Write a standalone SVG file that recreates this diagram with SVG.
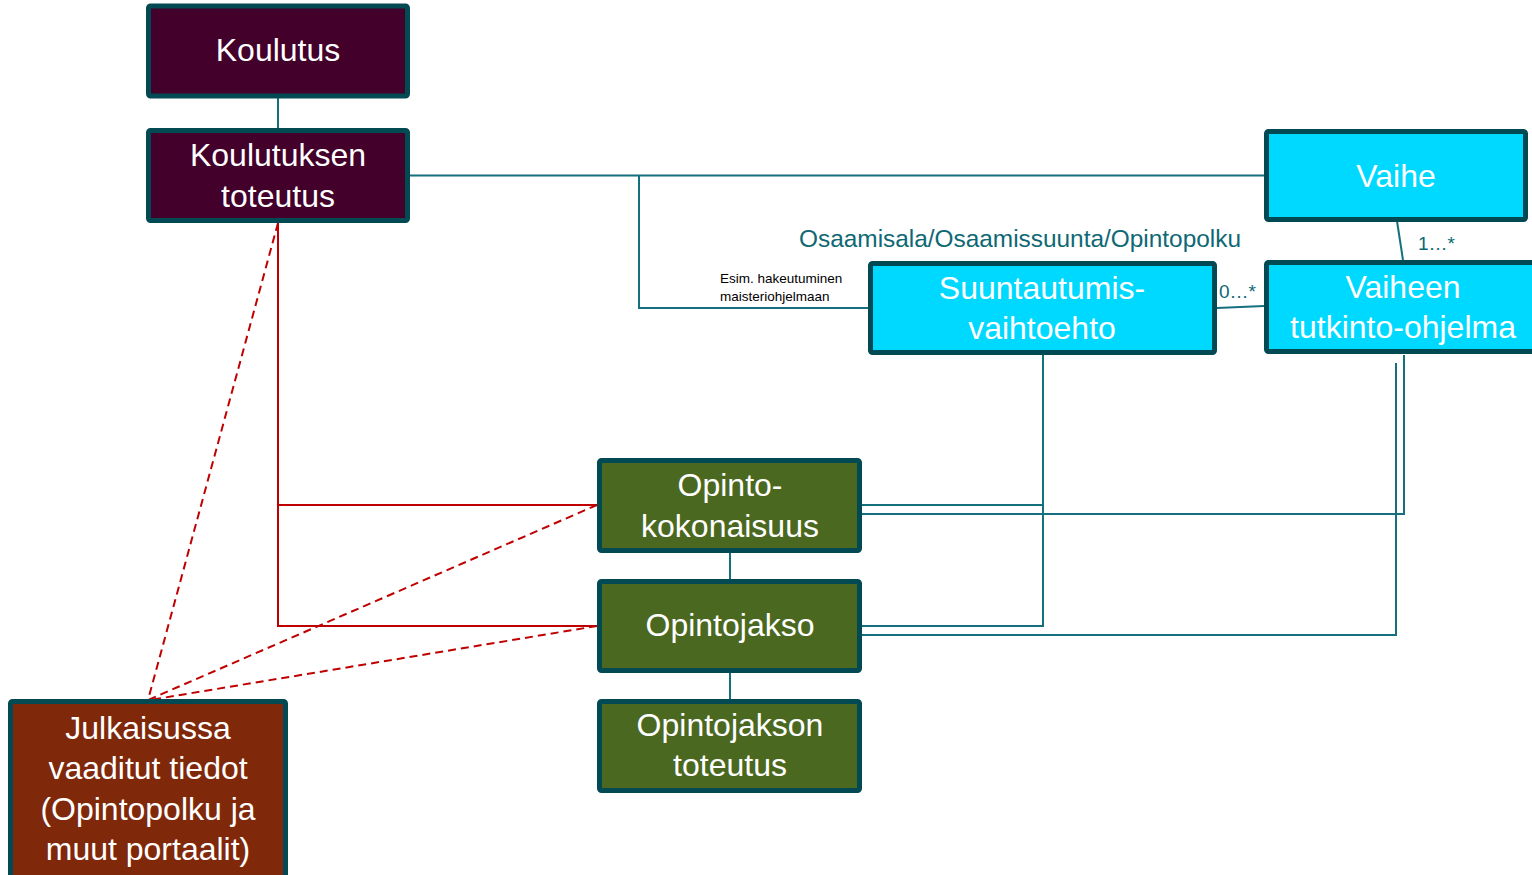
<svg xmlns="http://www.w3.org/2000/svg" width="1532" height="875" viewBox="0 0 1532 875">
<style>
.box{stroke:#024a53;stroke-width:5}
.maroon{fill:#42002a}
.cyan{fill:#00d9ff}
.green{fill:#4b6820}
.brown{fill:#7f280a}
.t{font-family:"Liberation Sans",Arial,sans-serif;font-size:32px;fill:#ffffff;text-anchor:middle}
.lbl{font-family:"Liberation Sans",Arial,sans-serif;fill:#0e6874}
.small{font-family:"Liberation Sans",Arial,sans-serif;font-size:13.5px;fill:#000000}
.c{fill:none;stroke:#14707e;stroke-width:2}
.r{fill:none;stroke:#c00000;stroke-width:2}
.rd{fill:none;stroke:#c00000;stroke-width:2;stroke-dasharray:8 5}
</style>
<rect width="1532" height="875" fill="#ffffff"/>
<g id="connectors">
<line class="c" x1="278" y1="98" x2="278" y2="128"/>
<line class="c" x1="410" y1="175.5" x2="1264" y2="175.5"/>
<polyline class="c" points="639,175.5 639,308 868,308"/>
<line class="c" x1="1397" y1="221" x2="1403" y2="260"/>
<line class="c" x1="1217" y1="308" x2="1264" y2="306"/>
<line class="c" x1="730" y1="553" x2="730" y2="579"/>
<line class="c" x1="730" y1="673" x2="730" y2="699"/>
<polyline class="c" points="862,505 1043,505"/>
<polyline class="c" points="1043,355 1043,626 862,626"/>
<polyline class="c" points="862,514 1404,514 1404,355"/>
<polyline class="c" points="1396,363 1396,635 862,635"/>
<polyline class="r" points="278,223 278,626 597,626"/>
<line class="r" x1="278" y1="505" x2="597" y2="505"/>
<line class="rd" x1="278" y1="223" x2="148" y2="700"/>
<line class="rd" x1="597" y1="505" x2="148" y2="700"/>
<line class="rd" x1="597" y1="626" x2="150" y2="700"/>
<text class="lbl" x="1020" y="247" font-size="24.4" text-anchor="middle">Osaamisala/Osaamissuunta/Opintopolku</text>
<text class="small" x="720" y="283">Esim. hakeutuminen</text>
<text class="small" x="720" y="301">maisteriohjelmaan</text>
<text class="lbl" x="1219" y="298" font-size="19">0…*</text>
<text class="lbl" x="1418" y="250" font-size="19">1…*</text>
</g>
<g id="koulutus">
<rect class="box maroon" x="148.5" y="6" width="259" height="90" rx="2"/>
<text class="t" x="278" y="61">Koulutus</text>
</g>
<g id="koulutuksen-toteutus">
<rect class="box maroon" x="148.5" y="130.5" width="259" height="90" rx="2"/>
<text class="t" x="278" y="166">Koulutuksen</text>
<text class="t" x="278" y="207">toteutus</text>
</g>
<g id="vaihe">
<rect class="box cyan" x="1266.5" y="131.5" width="259" height="88" rx="2"/>
<text class="t" x="1396" y="187">Vaihe</text>
</g>
<g id="suuntautumisvaihtoehto">
<rect class="box cyan" x="870.5" y="263.5" width="344" height="89" rx="2"/>
<text class="t" x="1042" y="299">Suuntautumis-</text>
<text class="t" x="1042" y="339">vaihtoehto</text>
</g>
<g id="vaiheen-tutkinto-ohjelma">
<rect class="box cyan" x="1266.5" y="262.5" width="280" height="89" rx="2"/>
<text class="t" x="1403" y="298">Vaiheen</text>
<text class="t" x="1403" y="338">tutkinto-ohjelma</text>
</g>
<g id="opintokokonaisuus">
<rect class="box green" x="599.5" y="460.5" width="260" height="90" rx="2"/>
<text class="t" x="730" y="496">Opinto-</text>
<text class="t" x="730" y="537">kokonaisuus</text>
</g>
<g id="opintojakso">
<rect class="box green" x="599.5" y="581.5" width="260" height="89" rx="2"/>
<text class="t" x="730" y="636">Opintojakso</text>
</g>
<g id="opintojakson-toteutus">
<rect class="box green" x="599.5" y="701.5" width="260" height="89" rx="2"/>
<text class="t" x="730" y="736">Opintojakson</text>
<text class="t" x="730" y="776">toteutus</text>
</g>
<g id="julkaisussa">
<rect class="box brown" x="10.5" y="701.5" width="275" height="185" rx="2"/>
<text class="t" x="148" y="739">Julkaisussa</text>
<text class="t" x="148" y="779">vaaditut tiedot</text>
<text class="t" x="148" y="820">(Opintopolku ja</text>
<text class="t" x="148" y="860">muut portaalit)</text>
</g>
</svg>
